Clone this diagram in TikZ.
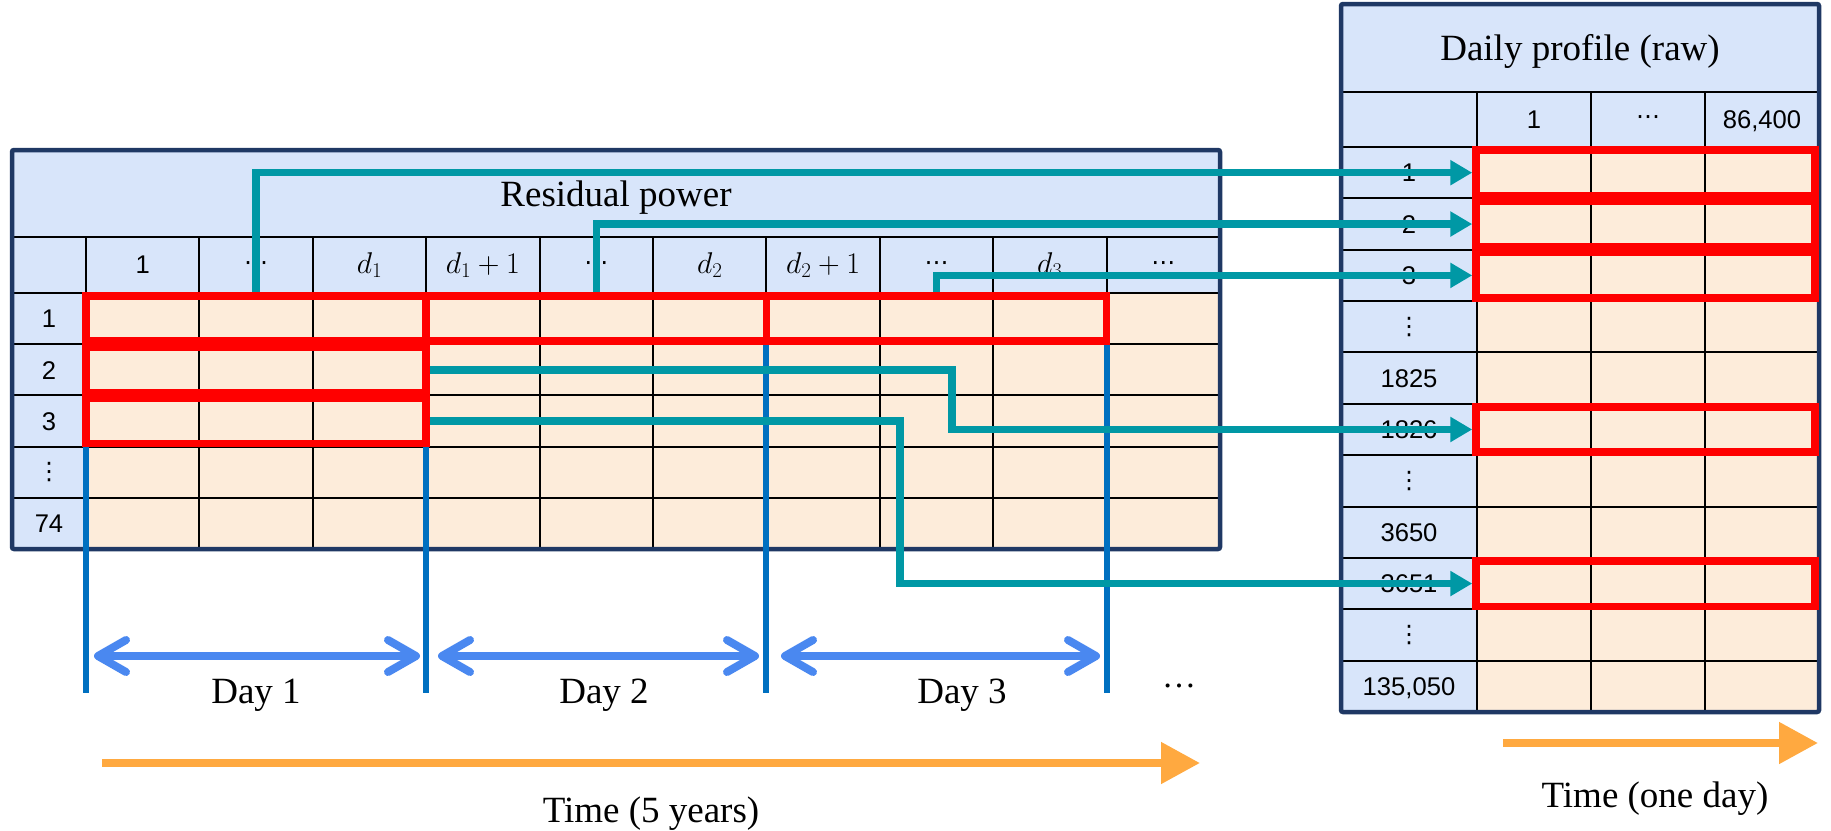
\RequirePackage{fix-cm}
\documentclass[tikz,border=0pt]{standalone}
\usepackage{fontspec}
\setmainfont{Liberation Serif}
\newfontfamily\arialf{Liberation Sans}
\newfontfamily\dejavuf{DejaVu Sans}
\usetikzlibrary{arrows.meta,calc}

\definecolor{hdrblue}{RGB}{216,229,250}
\definecolor{cellpeach}{RGB}{253,236,218}
\definecolor{navyedge}{RGB}{31,56,100}
\definecolor{linkteal}{RGB}{0,152,165}
\definecolor{daysep}{RGB}{0,112,192}
\definecolor{spanblue}{RGB}{74,136,240}
\definecolor{timeorange}{RGB}{255,169,64}
\definecolor{selred}{RGB}{255,0,0}

\begin{document}
\begin{tikzpicture}[x=1pt,y=-1pt,
  gridline/.style={black, line width=2pt},
  tableframe/.style={navyedge, line width=4.5pt, rounded corners=2pt},
  caption/.style={font=\fontsize{37}{40}\selectfont, anchor=base, inner sep=0},
  num/.style={font=\arialf\fontsize{25.6}{28}\selectfont, anchor=base, inner sep=0},
  idx/.style={font=\fontsize{30}{32}\selectfont, anchor=base, inner sep=0},
  dotsym/.style={font=\dejavuf\fontsize{24}{26}\selectfont, anchor=center, inner sep=0},
  selbox/.style={draw=selred, line width=7.5pt, rectangle, inner sep=0},
  link/.style={draw=linkteal, line width=7.5pt, -{Triangle[length=22pt,width=24pt]}},
  sepline/.style={draw=daysep, line width=6pt},
  span/.style={draw=spanblue, line width=8pt,
    {Straight Barb[length=28pt,width=32pt,round]}-{Straight Barb[length=28pt,width=32pt,round]}},
  timearrow/.style={draw=timeorange, line width=8pt, -{Triangle[length=39pt,width=40pt]}}
]
\useasboundingbox (0,0) rectangle (1831,830);

% ---------------- Residual power table ----------------
\fill[hdrblue] (12,150) rectangle (1220,549);
\fill[cellpeach] (86,293) rectangle (1220,549);
\draw[gridline] (12,237) -- (1220,237);
\foreach \i in {0,...,4}
  \draw[gridline] (12,{293+51.2*\i}) -- (1220,{293+51.2*\i});
\foreach \i in {0,...,9}
  \draw[gridline] ({86+113.4*\i},237) -- ({86+113.4*\i},549);
\draw[tableframe] (12,150) rectangle (1220,549);

\node[caption] (rtitle) at (616,206) {Residual power};

% column headers
\node[num] (h1) at ({86+113.4*0.5},273) {1};
\node[dotsym] (h2) at ({86+113.4*1.5},266) {⋯};
\node[idx] (h3) at ({86+113.4*2.5},273) {$d_1$};
\node[idx] (h4) at ({86+113.4*3.5},273) {$d_1+1$};
\node[dotsym] (h5) at ({86+113.4*4.5},266) {⋯};
\node[idx] (h6) at ({86+113.4*5.5},273) {$d_2$};
\node[idx] (h7) at ({86+113.4*6.5},273) {$d_2+1$};
\node[dotsym] (h8) at ({86+113.4*7.5},266) {⋯};
\node[idx] (h9) at ({86+113.4*8.5},273) {$d_3$};
\node[dotsym] (h10) at ({86+113.4*9.5},266) {⋯};

% row labels
\node[num] (r1) at (49,{293+51.2*0.5+9.2}) {1};
\node[num] (r2) at (49,{293+51.2*1.5+9.2}) {2};
\node[num] (r3) at (49,{293+51.2*2.5+9.2}) {3};
\node[dotsym] (r4) at (49,{293+51.2*3.5}) {⋮};
\node[num] (r5) at (49,{293+51.2*4.5+9.2}) {74};

% ---------------- Daily profile table ----------------
\fill[hdrblue] (1341,4) rectangle (1819,712);
\fill[cellpeach] (1477,147) rectangle (1819,712);
\draw[gridline] (1341,92) -- (1819,92);
\foreach \i in {0,...,10}
  \draw[gridline] (1341,{147+51.36*\i}) -- (1819,{147+51.36*\i});
\foreach \i in {0,...,2}
  \draw[gridline] ({1477+114*\i},92) -- ({1477+114*\i},712);
\draw[tableframe] (1341,4) rectangle (1819,712);

\node[caption] (dtitle) at (1580,60) {Daily profile (raw)};

\node[num] (g1) at (1534,128) {1};
\node[dotsym] (g2) at (1648,120) {⋯};
\node[num] (g3) at (1762,128) {86,400};

\foreach \lab [count=\k] in {1,2,3,,1825,1826,,3650,3651,,{135,050}}
  \node[num] (p\k) at (1409,{147+51.36*(\k-0.5)+9.3}) {\lab};
\node[dotsym] (q4) at (1409,{147+51.36*3.5}) {⋮};
\node[dotsym] (q7) at (1409,{147+51.36*6.5}) {⋮};
\node[dotsym] (q10) at (1409,{147+51.36*9.5}) {⋮};

% ---------------- day boundaries ----------------
\draw[sepline] (86,293) -- (86,693);
\draw[sepline] (426.2,293) -- (426.2,693);
\draw[sepline] (766.4,293) -- (766.4,693);
\draw[sepline] (1106.6,293) -- (1106.6,693);

% ---------------- selected blocks ----------------
\node[selbox, minimum width=340.2, minimum height=45.2] (L1a) at (256.1,318.6) {};
\node[selbox, minimum width=340.2, minimum height=45.2] (L2a) at (256.1,369.8) {};
\node[selbox, minimum width=340.2, minimum height=45.2] (L3a) at (256.1,421.0) {};
\node[selbox, minimum width=340.2, minimum height=45.2] (L1b) at (596.3,318.6) {};
\node[selbox, minimum width=340.2, minimum height=45.2] (L1c) at (936.5,318.6) {};

\node[selbox, minimum width=339, minimum height=45.4] (R1) at (1645.5,{147+51.36*0.5}) {};
\node[selbox, minimum width=339, minimum height=45.4] (R2) at (1645.5,{147+51.36*1.5}) {};
\node[selbox, minimum width=339, minimum height=45.4] (R3) at (1645.5,{147+51.36*2.5}) {};
\node[selbox, minimum width=339, minimum height=45.4] (R1826) at (1645.5,{147+51.36*5.5}) {};
\node[selbox, minimum width=339, minimum height=45.4] (R3651) at (1645.5,{147+51.36*8.5}) {};

% ---------------- day-to-row links ----------------
\coordinate (k4) at (952,0);
\coordinate (k5) at (900,0);
\draw[link] (L1a.north -| h2) |- (R1.west);
\draw[link] (L1b.north -| h5) |- (R2.west);
\draw[link] (L1c.north -| h8) |- (R3.west);
\draw[link] (L2a.east) -- (L2a.east -| k4) |- (R1826.west);
\draw[link] (L3a.east) -- (L3a.east -| k5) |- (R3651.west);

% ---------------- day spans ----------------
\coordinate (s1a) at (94,656);  \coordinate (s1b) at (420,656);
\coordinate (s2a) at (438,656); \coordinate (s2b) at (759,656);
\coordinate (s3a) at (781,656); \coordinate (s3b) at (1100,656);
\draw[span] (s1a) -- (s1b);
\draw[span] (s2a) -- (s2b);
\draw[span] (s3a) -- (s3b);
\node[caption] (day1) at (256,703) {Day 1};
\node[caption] (day2) at (604,703) {Day 2};
\node[caption] (day3) at (962,703) {Day 3};
\node[caption, font=\fontsize{34}{36}\selectfont] (daymore) at (1179,687) {…};

% ---------------- time axes ----------------
\coordinate (t1a) at (102,763); \coordinate (t1b) at (1200,763);
\coordinate (t2a) at (1503,743); \coordinate (t2b) at (1818,743);
\draw[timearrow] (t1a) -- (t1b);
\draw[timearrow] (t2a) -- (t2b);
\node[caption] (time5) at (651,822) {Time (5 years)};
\node[caption] (time1) at (1655,807) {Time (one day)};
\end{tikzpicture}
\end{document}
